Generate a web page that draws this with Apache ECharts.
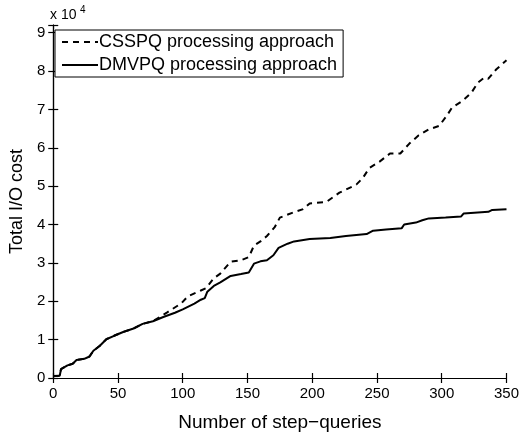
<!DOCTYPE html>
<html>
<head>
<meta charset="utf-8">
<script src="https://cdn.jsdelivr.net/npm/echarts@6/dist/echarts.min.js"></script>
<style>html,body{margin:0;padding:0;background:#fff;}#c{width:522px;height:437px;}</style>
</head>
<body>
<div id="c"></div>
<script>
// x tick labels / y tick labels
var xTicks = [0, 50, 100, 150, 200, 250, 300, 350];
var yTicks = [0, 1, 2, 3, 4, 5, 6, 7, 8, 9];
// CSSPQ processing approach (dashed)
var csspqX = [0, 5, 6, 11, 15, 18, 24, 28, 31, 36, 41, 47, 54, 62, 69, 77, 78, 88, 99, 104, 114, 118, 124, 129, 137, 145, 151, 155, 160, 165, 171, 175, 185, 193, 198, 211, 221, 234, 239, 244, 252, 257, 260, 268, 275, 282, 290, 298, 304, 308, 316, 323, 328, 333, 336, 342, 350];
var csspqY = [500, 600, 2300, 3300, 3700, 4700, 5000, 5600, 7100, 8400, 10100, 11000, 12000, 12900, 14100, 14800, 15300, 17100, 19500, 21300, 22800, 23400, 26000, 27200, 30300, 30700, 31500, 34500, 35600, 37000, 39300, 41800, 43100, 44000, 45500, 45900, 48300, 50400, 52100, 54700, 56400, 57700, 58500, 58500, 61100, 63200, 64800, 65700, 68400, 70500, 72200, 74400, 77000, 78300, 78000, 80400, 82800];
// DMVPQ processing approach (solid)
var dmvpqX = [0, 5, 6, 11, 15, 18, 24, 28, 31, 36, 41, 47, 54, 62, 69, 77, 85, 94, 100, 109, 114, 117, 119, 124, 129, 137, 145, 151, 155, 160, 165, 170, 174, 181, 186, 198, 214, 226, 242, 247, 257, 269, 271, 280, 285, 290, 303, 315, 317, 336, 339, 350];
var dmvpqY = [500, 600, 2300, 3300, 3700, 4700, 5000, 5600, 7100, 8400, 10100, 11000, 12000, 12900, 14100, 14800, 15900, 17000, 17900, 19400, 20400, 20800, 22500, 24000, 24900, 26600, 27100, 27500, 29800, 30400, 30700, 32000, 33900, 35000, 35600, 36200, 36500, 37000, 37500, 38400, 38700, 39000, 40000, 40500, 41100, 41600, 41800, 42100, 42900, 43300, 43800, 44000];
var seriesNames = ['CSSPQ processing approach', 'DMVPQ processing approach'];
var xTitle = 'Number of step\u2212queries';
var yTitle = 'Total I/O cost';

function pairs(xs, ys) { return xs.map(function (x, i) { return [x, ys[i]]; }); }

var FONT = 'Liberation Sans, Arial, Helvetica, sans-serif';
var chart = echarts.init(document.getElementById('c'), null, {renderer: 'canvas'});
var axisLineStyle = {color: '#000', width: 1.2};
var yMain = {
  type: 'value', min: 0, max: 92000, interval: 10000, position: 'left',
  name: yTitle, nameLocation: 'middle', nameGap: 20,
  nameTextStyle: {fontFamily: FONT, fontSize: 18, color: '#000'},
  axisLine: {show: true, lineStyle: axisLineStyle},
  axisTick: {show: true, inside: true, length: 5, lineStyle: axisLineStyle},
  splitLine: {show: false},
  axisLabel: {fontFamily: FONT, fontSize: 15, color: '#000', margin: 8,
    formatter: function (v) { return (v % 10000 === 0) ? String(yTicks[v / 10000]) : ''; }}
};
var yRight = {
  type: 'value', min: 0, max: 92000, interval: 10000, position: 'right',
  axisLine: {show: true, lineStyle: axisLineStyle},
  axisTick: {show: true, inside: true, length: 5, lineStyle: axisLineStyle},
  splitLine: {show: false}, axisLabel: {show: false}
};
var xMain = {
  type: 'value', min: 0, max: 350, interval: 50, position: 'bottom',
  name: xTitle, nameLocation: 'middle', nameGap: 35,
  nameTextStyle: {fontFamily: FONT, fontSize: 19, color: '#000'},
  axisLine: {show: true, lineStyle: axisLineStyle},
  axisTick: {show: true, inside: true, length: 5, lineStyle: axisLineStyle},
  splitLine: {show: false},
  axisLabel: {fontFamily: FONT, fontSize: 15, color: '#000', margin: 8,
    formatter: function (v) { return String(xTicks[v / 50]); }}
};
var xTop = {
  type: 'value', min: 0, max: 350, interval: 50, position: 'top',
  axisLine: {show: true, lineStyle: axisLineStyle},
  axisTick: {show: true, inside: true, length: 5, lineStyle: axisLineStyle},
  splitLine: {show: false}, axisLabel: {show: false}
};

chart.setOption({
  animation: false,
  backgroundColor: '#fff',
  grid: {left: 51, right: 14, top: 25, bottom: 54, containLabel: false},
  xAxis: [xMain, xTop],
  yAxis: [yMain, yRight],
  legend: {
    orient: 'vertical', left: 55, top: 30,
    data: seriesNames,
    backgroundColor: '#fff', borderColor: '#000', borderWidth: 1, borderRadius: 0,
    padding: [3, 6, 3, 6], itemWidth: 36, itemHeight: 14, itemGap: 5,
    itemStyle: {opacity: 0, borderWidth: 0},
    textStyle: {fontFamily: FONT, fontSize: 18, color: '#000', padding: [0, 0, 0, -4]}
  },
  graphic: [{
    type: 'text', left: 50, top: 8,
    style: {text: 'x 10', font: '14px ' + FONT, fill: '#000'}
  }, {
    type: 'text', left: 80, top: 5,
    style: {text: '4', font: '10px ' + FONT, fill: '#000'}
  }],
  series: [{
    name: seriesNames[0], type: 'line', xAxisIndex: 0, yAxisIndex: 0,
    data: pairs(csspqX, csspqY), symbol: 'none', showSymbol: false,
    lineStyle: {color: '#000', width: 2, type: [6, 5]}, itemStyle: {color: '#000'}, z: 3
  }, {
    name: seriesNames[1], type: 'line', xAxisIndex: 0, yAxisIndex: 0,
    data: pairs(dmvpqX, dmvpqY), symbol: 'none', showSymbol: false,
    lineStyle: {color: '#000', width: 2, type: 'solid'}, itemStyle: {color: '#000'}, z: 4
  }]
});
</script>
</body>
</html>
